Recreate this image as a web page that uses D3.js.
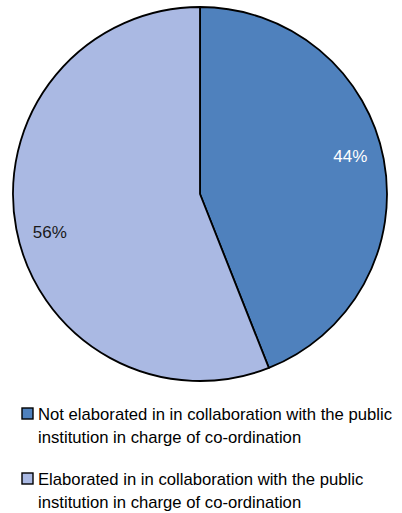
<!DOCTYPE html>
<html><head><meta charset="utf-8">
<script src="https://cdn.jsdelivr.net/npm/d3@7"></script>
<style>body{margin:0;background:#fff;} svg{display:block;font-family:"Liberation Sans",Arial,sans-serif;}</style>
</head><body>
<svg id="c" width="402" height="513"></svg>
<script>
const categories = ["Not elaborated in in collaboration with the public institution in charge of co-ordination",
                    "Elaborated in in collaboration with the public institution in charge of co-ordination"];
const legendLines = [["Not elaborated in in collaboration with the public", "institution in charge of co-ordination"],
                     ["Elaborated in in collaboration with the public", "institution in charge of co-ordination"]];
const values = [44, 56];
const labels = ["44%", "56%"];
const colors = ["#4f81bd", "#aab9e3"];
const labelColors = ["#ffffff", "#1a1a1a"];

const svg = d3.select("#c");
const cx = 200, cy = 194, R = 187;
const pie = d3.pie().sort(null).value(d => d)(values);
const arc = d3.arc().innerRadius(0).outerRadius(R);
const g = svg.append("g").attr("transform", `translate(${cx},${cy})`);
g.selectAll("path").data(pie).join("path")
  .attr("d", arc)
  .attr("fill", (d, i) => colors[i])
  .attr("stroke", "#000").attr("stroke-width", 1.8).attr("stroke-linejoin", "round");

const lr = 155, off = 0.06;
g.selectAll("text").data(pie).join("text")
  .attr("x", d => lr * Math.sin((d.startAngle + d.endAngle) / 2 - off))
  .attr("y", d => -lr * Math.cos((d.startAngle + d.endAngle) / 2 - off))
  .attr("dy", "0.35em")
  .attr("text-anchor", "middle")
  .attr("font-size", 17)
  .attr("fill", (d, i) => labelColors[i])
  .text((d, i) => labels[i]);

const leg = svg.append("g");
const legY = [408, 473];
const targetW = 354;
const tspans = [];
legendLines.forEach((lines, i) => {
  leg.append("rect").attr("x", 22).attr("y", legY[i]).attr("width", 11).attr("height", 11)
    .attr("fill", colors[i]).attr("stroke", "#000").attr("stroke-width", 1.4);
  lines.forEach((ln, j) => {
    const t = leg.append("text").attr("font-size", 17).attr("fill", "#000")
      .attr("x", 38).attr("y", legY[i] + 12 + j * 23).text(ln);
    tspans.push(t);
  });
});
const w0 = tspans[0].node().getComputedTextLength();
const k = targetW / w0;
tspans.forEach(t => {
  const w = t.node().getComputedTextLength();
  t.attr("textLength", w * k).attr("lengthAdjust", "spacingAndGlyphs");
});
</script>
</body></html>
